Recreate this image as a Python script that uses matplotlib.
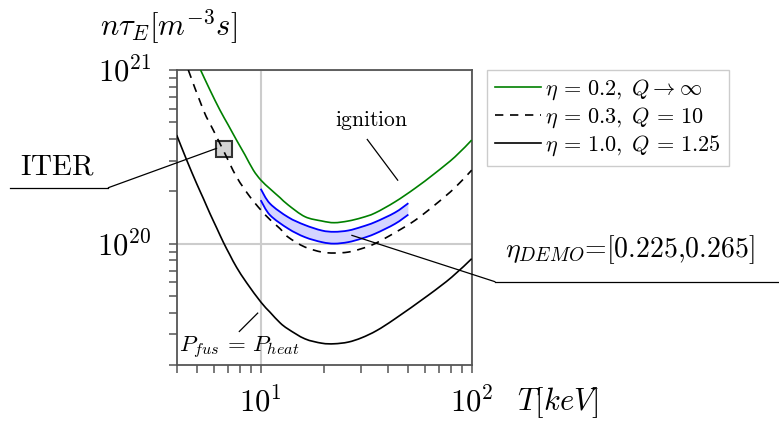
import matplotlib
matplotlib.use("Agg")
import numpy as np
import matplotlib.pyplot as plt
from matplotlib.lines import Line2D
from matplotlib.path import Path
from matplotlib.patches import PathPatch
from matplotlib.ticker import LogLocator, NullFormatter

plt.rcParams['mathtext.fontset'] = 'cm'
plt.rcParams['font.family'] = ['cmr10', 'DejaVu Sans']
plt.rcParams['axes.formatter.use_mathtext'] = True

# temperature T [keV] and n*tau_E [m^-3 s]
T_green = [5.19, 5.75, 6.41, 7.02, 7.69, 8.43, 9.23, 10.03, 11.07, 12.35, 13.5, 16.2, 19.5,
           22.3, 26.0, 30.1, 34.8, 43.3, 53.8, 66.9, 83.3, 100]
nt_green = [1.0e21, 7.67e20, 5.88e20, 4.82e20, 3.94e20, 3.24e20, 2.65e20, 2.32e20, 2.07e20,
            1.84e20, 1.67e20, 1.43e20, 1.35e20, 1.32e20, 1.35e20, 1.41e20, 1.50e20, 1.74e20,
            2.08e20, 2.54e20, 3.16e20, 3.95e20]

T_dash = [4.54, 5.35, 5.96, 6.65, 7.69, 8.9, 10.03, 11.07, 12.35, 13.5, 16.2, 19.5, 22.3,
          26.0, 30.1, 34.8, 43.3, 53.8, 66.9, 83.3, 100]
nt_dash = [1.0e21, 5.88e20, 4.51e20, 3.45e20, 2.42e20, 1.86e20, 1.56e20, 1.375e20, 1.22e20,
           1.09e20, 9.56e19, 8.94e19, 8.83e19, 8.94e19, 9.36e19, 1.0e20, 1.157e20, 1.36e20,
           1.67e20, 2.10e20, 2.65e20]

T_black = [4.0, 4.46, 4.97, 5.35, 5.75, 6.19, 6.65, 7.15, 7.69, 8.58, 10.03, 11.07, 12.35,
           13.5, 16.2, 19.5, 22.3, 26.0, 30.1, 35.5, 43.3, 62.2, 80.4, 100]
nt_black = [4.22e20, 3.03e20, 2.22e20, 1.82e20, 1.49e20, 1.23e20, 1.02e20, 8.6e19, 7.3e19,
            5.95e19, 4.60e19, 4.03e19, 3.50e19, 3.22e19, 2.83e19, 2.67e19, 2.65e19, 2.71e19,
            2.87e19, 3.16e19, 3.69e19, 5.04e19, 6.41e19, 8.19e19]

T_demo = [10.0, 11.07, 13.5, 16.2, 19.5, 22.3, 26.0, 30.1, 34.8, 43.3, 50.1]
nt_demo_hi = [2.07e20, 1.70e20, 1.42e20, 1.28e20, 1.19e20, 1.17e20, 1.19e20, 1.25e20, 1.33e20,
              1.51e20, 1.71e20]
nt_demo_lo = [1.78e20, 1.46e20, 1.22e20, 1.09e20, 1.02e20, 1.0e20, 1.02e20, 1.07e20, 1.14e20,
              1.30e20, 1.47e20]

iter_T = [6.71]
iter_nt = [3.49e20]

labels = [r'$\eta\,=\,0.2,\; Q \rightarrow \infty$',
          r'$\eta\,=\,0.3,\; Q\,=\,10$',
          r'$\eta\,=\,1.0,\; Q\,=\,1.25$']


def smooth_verts(xs, ys):
    # Catmull-Rom through the points, done in log-log space, as bezier segments
    p = np.column_stack([np.log10(xs), np.log10(ys)])
    n = len(p)
    verts = [p[0]]
    for i in range(n - 1):
        a = p[max(i - 1, 0)]
        d = p[min(i + 2, n - 1)]
        verts += [p[i] + (p[i + 1] - a) / 6, p[i + 1] - (d - p[i]) / 6, p[i + 1]]
    return 10 ** np.array(verts)


def smooth_curve(ax, xs, ys, **kw):
    v = smooth_verts(xs, ys)
    codes = [Path.MOVETO] + [Path.CURVE4] * (len(v) - 1)
    ax.add_patch(PathPatch(Path(v, codes), fill=False, transform=ax.transData, **kw))


W, H = 779, 422
fig = plt.figure(figsize=(W / 100, H / 100), dpi=100)
ax = fig.add_axes([176.7 / W, 1 - 365 / H, 295 / W, 295 / H])

# DEMO band
vh = smooth_verts(T_demo, nt_demo_hi)
vl = smooth_verts(T_demo, nt_demo_lo)[::-1]
band = np.vstack([vh, vl, vh[:1]])
codes = ([Path.MOVETO] + [Path.CURVE4] * (len(vh) - 1) + [Path.LINETO]
         + [Path.CURVE4] * (len(vl) - 1) + [Path.CLOSEPOLY])
ax.add_patch(PathPatch(Path(band, codes), facecolor='#d4d4ff', edgecolor='none', zorder=2))
smooth_curve(ax, T_demo, nt_demo_hi, edgecolor='#0000ff', lw=1.3, zorder=3)
smooth_curve(ax, T_demo, nt_demo_lo, edgecolor='#0000ff', lw=1.3, zorder=3)

ax.plot(iter_T, iter_nt, 's', ms=12, mfc='#d3d3d3', mec='#333333', mew=1.5, zorder=3)
smooth_curve(ax, T_green, nt_green, edgecolor='#008000', lw=1.2, zorder=4)
smooth_curve(ax, T_dash, nt_dash, edgecolor='black', lw=1.2, ls=(0, (5, 4)), zorder=4)
smooth_curve(ax, T_black, nt_black, edgecolor='black', lw=1.2, zorder=4)

ax.set_xscale('log')
ax.set_yscale('log')
ax.set_xlim(4, 100)
ax.set_ylim(2e19, 1e21)

ax.xaxis.set_major_locator(LogLocator(base=10, numticks=10))
ax.xaxis.set_minor_locator(LogLocator(base=10, subs=range(2, 10), numticks=20))
ax.yaxis.set_minor_locator(LogLocator(base=10, subs=range(2, 10), numticks=20))
ax.xaxis.set_minor_formatter(NullFormatter())
ax.yaxis.set_minor_formatter(NullFormatter())

ax.grid(True, which='major', color='#cccccc', lw=1.5, zorder=0)
ax.set_axisbelow(True)
for s in ax.spines.values():
    s.set_color('#555555')
    s.set_linewidth(1.3)
ax.tick_params(which='both', direction='out', length=6, width=1.1, color='#555555',
               top=False, right=False)
ax.tick_params(axis='x', which='major', labelsize=22, pad=10)
ax.tick_params(axis='y', which='major', labelsize=22, pad=12)

fig.text(169 / W, 1 - 27 / H, r'$n\tau_E[m^{-3}s]$', fontsize=22, ha='center', va='center')
fig.text(558 / W, 1 - 403 / H, r'$T[keV]$', fontsize=22, ha='center', va='center')

handles = [Line2D([], [], color='#008000', lw=1.2),
           Line2D([], [], color='black', lw=1.2, ls=(0, (5, 4))),
           Line2D([], [], color='black', lw=1.2)]
fig.legend(handles, labels, loc='upper left', bbox_to_anchor=(487 / W, 1 - 70 / H),
           fontsize=16, frameon=True, fancybox=False, edgecolor='#cccccc', framealpha=1,
           handlelength=2.1, handletextpad=0.15, labelspacing=0.15, borderpad=0.35,
           borderaxespad=0)

# annotations
ax.text(33.6, 5.14e20, r'$\mathrm{ignition}$', fontsize=15.5, ha='center', va='center')
ax.plot([32.0, 44.6], [3.98e20, 2.32e20], color='black', lw=0.9, zorder=5)

ax.text(7.95, 2.52e19, r'$P_{fus}\,=\,P_{heat}$', fontsize=16.5, ha='center', va='center')
ax.plot([7.92, 9.68], [3.12e19, 3.98e19], color='black', lw=0.9, zorder=5)

fig.text(57 / W, 1 - 167 / H, r'$\mathrm{ITER}$', fontsize=21, ha='center', va='center')
ax.annotate('', xy=(6.19, 3.54e20), xycoords='data',
            xytext=(108.3 / W, 1 - 187.7 / H), textcoords='figure fraction',
            arrowprops=dict(arrowstyle='-', lw=0.9, color='black', shrinkA=0, shrinkB=0),
            annotation_clip=False)
fig.add_artist(Line2D([10 / W, 108.3 / W], [1 - 187.7 / H, 1 - 187.7 / H],
                      transform=fig.transFigure, color='black', lw=0.9))

fig.text(505 / W, 1 - 250 / H, r'$\eta_{DEMO}$=[0.225,0.265]', fontsize=20,
         ha='left', va='center')
ax.annotate('', xy=(27.0, 1.117e20), xycoords='data',
            xytext=(495 / W, 1 - 281.7 / H), textcoords='figure fraction',
            arrowprops=dict(arrowstyle='-', lw=0.9, color='black', shrinkA=0, shrinkB=0),
            annotation_clip=False)
fig.add_artist(Line2D([495 / W, 1.0], [1 - 281.7 / H, 1 - 281.7 / H],
                      transform=fig.transFigure, color='black', lw=0.9))

fig.savefig('out.png', dpi=100)
